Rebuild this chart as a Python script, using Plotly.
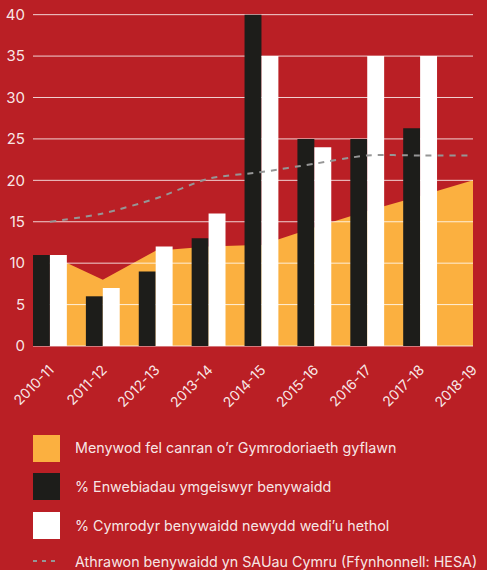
import plotly.graph_objects as go

# ---------------- data ----------------
categories = ["2010-11", "2011-12", "2012-13", "2013-14", "2014-15",
              "2015-16", "2016-17", "2017-18", "2018-19"]
fellowship_women = [11, 8, 11.5, 12, 12.2, 14.3, 16.3, 18.1, 20]
nominations = [11, 6, 9, 13, 40, 25, 25, 26.3]
new_fellows = [11, 7, 12, 16, 35, 24, 35, 35]
hesa_staff = [15, 16, 17.8, 20.2, 21, 22, 23, 23, 23]
y_ticks = [0, 5, 10, 15, 20, 25, 30, 35, 40]
legend_labels = [
    "Menywod fel canran o\u2019r Gymrodoriaeth gyflawn",
    "% Enwebiadau ymgeiswyr benywaidd",
    "% Cymrodyr benywaidd newydd wedi\u2019u hethol",
    "Athrawon benywaidd yn SAUau Cymru (Ffynhonnell: HESA)",
]

# ---------------- style ----------------
BG = "#BA1F25"
ORANGE = "#FBB040"
BLACK = "#1D1D1A"
WHITE = "#FFFFFF"
GREY = "#969696"
TEXT = "rgba(255,255,255,0.9)"
GRID = "rgba(255,255,255,0.8)"
FONT = "Inter, 'Liberation Sans', Arial, sans-serif"

W, H = 487, 570
L, R, T, B = 33, 14, 13, 223
X_RANGE = [-0.32, 8]
Y_RANGE = [-0.12, 40.2]

xpos = list(range(len(categories)))

fig = go.Figure()

# area (main subplot)
fig.add_trace(go.Scatter(
    x=xpos, y=fellowship_women, mode="lines", fill="tozeroy",
    line=dict(width=0, color=ORANGE), fillcolor=ORANGE,
    name=legend_labels[0], showlegend=False, hoverinfo="skip",
    xaxis="x", yaxis="y"))

# gridlines drawn above the area but below the bars
gx, gy = [], []
for t in y_ticks:
    gx += [X_RANGE[0], X_RANGE[1], None]
    gy += [t, t, None]
fig.add_trace(go.Scatter(
    x=gx, y=gy, mode="lines", line=dict(color=GRID, width=1),
    showlegend=False, hoverinfo="skip", xaxis="x", yaxis="y"))

# bars (overlay subplot)
fig.add_trace(go.Bar(
    x=xpos[:len(nominations)], y=nominations, marker=dict(color=BLACK, line=dict(width=0)),
    name=legend_labels[1], showlegend=False, xaxis="x", yaxis="y2"))
fig.add_trace(go.Bar(
    x=xpos[:len(new_fellows)], y=new_fellows, marker=dict(color=WHITE, line=dict(width=0)),
    name=legend_labels[2], showlegend=False, xaxis="x", yaxis="y2"))

# dashed line
fig.add_trace(go.Scatter(
    x=xpos, y=hesa_staff, mode="lines",
    line=dict(color=GREY, width=2, dash="6px,6px", shape="spline", smoothing=0.7),
    name=legend_labels[3], showlegend=False, xaxis="x", yaxis="y2"))

# ---------------- custom legend ----------------
plot_w = W - L - R
plot_h = H - T - B


def px_x(px):
    return (px - L) / plot_w


def px_y(py):
    return (H - B - py) / plot_h


shapes = []
annotations = []
swatches = [ORANGE, BLACK, WHITE]
item_centers = [448.5, 486.5, 525.5, 561]
for i, (lab, cy) in enumerate(zip(legend_labels, item_centers)):
    if i < 3:
        shapes.append(dict(type="rect", xref="paper", yref="paper",
                           x0=px_x(33), x1=px_x(60), y0=px_y(cy + 13.5), y1=px_y(cy - 13.5),
                           fillcolor=swatches[i], line=dict(width=0), layer="above"))
    else:
        shapes.append(dict(type="line", xref="paper", yref="paper",
                           x0=px_x(33), x1=px_x(60), y0=px_y(cy), y1=px_y(cy),
                           line=dict(color=GREY, width=2, dash="4px,5px"), layer="above"))
    annotations.append(dict(xref="paper", yref="paper", x=px_x(73), y=px_y(cy),
                            text=lab, showarrow=False, xanchor="left", yanchor="middle",
                            font=dict(family=FONT, size=14.3, color=TEXT)))

fig.update_layout(
    width=W, height=H,
    margin=dict(l=L, r=R, t=T, b=B, pad=0, autoexpand=False),
    paper_bgcolor=BG, plot_bgcolor=BG,
    barmode="group", bargap=0.36, bargroupgap=0,
    showlegend=False,
    font=dict(family=FONT, color=TEXT),
    xaxis=dict(range=X_RANGE, tickvals=xpos, ticktext=categories, tickangle=-45,
               showgrid=False, zeroline=False, showline=False, ticks="",
               ticklabelstandoff=11, automargin=False,
               tickfont=dict(family=FONT, size=14, color=TEXT), fixedrange=True),
    yaxis=dict(range=Y_RANGE, tickvals=y_ticks, showgrid=False, zeroline=False,
               showline=False, ticks="", ticklabelstandoff=7, automargin=False,
               tickfont=dict(family=FONT, size=15, color=TEXT), fixedrange=True),
    yaxis2=dict(range=Y_RANGE, overlaying="y", visible=False, automargin=False,
                fixedrange=True),
    shapes=shapes, annotations=annotations,
)

fig.write_html(
    "out.html",
    config={"displayModeBar": False},
    post_script="document.body.style.margin='0';document.body.style.background='%s';" % BG,
)
